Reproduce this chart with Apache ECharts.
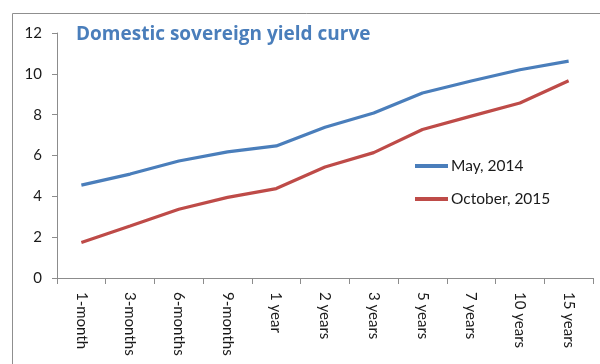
<!DOCTYPE html>
<html>
<head>
<meta charset="utf-8">
<script src="https://cdn.jsdelivr.net/npm/echarts@6/dist/echarts.min.js"></script>
<style>
  html, body { margin: 0; padding: 0; background: #fff; }
  #chart { width: 600px; height: 364px; }
</style>
</head>
<body>
<div id="chart"></div>
<script>
// Tenors along the curve
const tenors = ['1-month', '3-months', '6-months', '9-months', '1 year', '2 years',
                '3 years', '5 years', '7 years', '10 years', '15 years'];
// Yields (%) for each snapshot
const may2014 = [4.55, 5.09, 5.73, 6.18, 6.47, 7.38, 8.08, 9.06, 9.65, 10.2, 10.62];
const oct2015 = [1.74, 2.55, 3.37, 3.95, 4.38, 5.44, 6.14, 7.27, 7.93, 8.57, 9.66];
const yTicks = { min: 0, max: 12, step: 2 };

const FONT = 'Lato';
const AXIS_GREY = '#8c8c8c';

const chart = echarts.init(document.getElementById('chart'), null, { renderer: 'canvas' });
chart.setOption({
  animation: false,
  backgroundColor: '#ffffff',
  title: {
    text: 'Domestic sovereign yield curve',
    left: 71,
    top: 20,
    textStyle: { fontFamily: 'Open Sans', fontWeight: 'bold', fontSize: 19, color: '#4A7EBB' }
  },
  graphic: [{
    type: 'rect',
    shape: { x: 12.5, y: 13.5, width: 700, height: 500 },
    style: { fill: 'none', stroke: '#8f8f8f', lineWidth: 1 },
    silent: true
  }],
  legend: {
    orient: 'vertical',
    left: 415,
    top: 158,
    padding: 0,
    itemWidth: 33,
    itemHeight: 4,
    itemGap: 17,
    icon: 'rect',
    textStyle: { fontFamily: FONT, fontSize: 15.5, color: '#1a1a1a', padding: [0, 0, 0, -2] },
    data: ['May, 2014', 'October, 2015']
  },
  grid: { left: 57, right: 7, top: 33, bottom: 86, containLabel: false },
  xAxis: {
    type: 'category',
    data: tenors,
    boundaryGap: true,
    axisLine: { lineStyle: { color: AXIS_GREY, width: 1 } },
    axisTick: { show: true, length: 6, lineStyle: { color: AXIS_GREY } },
    axisLabel: {
      rotate: -90,
      margin: 14,
      fontFamily: FONT,
      fontSize: 15,
      color: '#1a1a1a',
      interval: 0
    },
    splitLine: { show: false }
  },
  yAxis: {
    type: 'value',
    min: yTicks.min,
    max: yTicks.max,
    interval: yTicks.step,
    axisLine: { show: true, lineStyle: { color: AXIS_GREY, width: 1 } },
    axisTick: { show: true, length: 5, lineStyle: { color: AXIS_GREY } },
    axisLabel: { margin: 15, fontFamily: FONT, fontSize: 15, color: '#1a1a1a' },
    splitLine: { show: false }
  },
  series: [
    {
      name: 'May, 2014',
      type: 'line',
      data: may2014,
      symbol: 'none',
      lineStyle: { color: '#4A7EBB', width: 3.2 },
      itemStyle: { color: '#4A7EBB' }
    },
    {
      name: 'October, 2015',
      type: 'line',
      data: oct2015,
      symbol: 'none',
      lineStyle: { color: '#BE4B48', width: 3.2 },
      itemStyle: { color: '#BE4B48' }
    }
  ]
});
</script>
</body>
</html>
